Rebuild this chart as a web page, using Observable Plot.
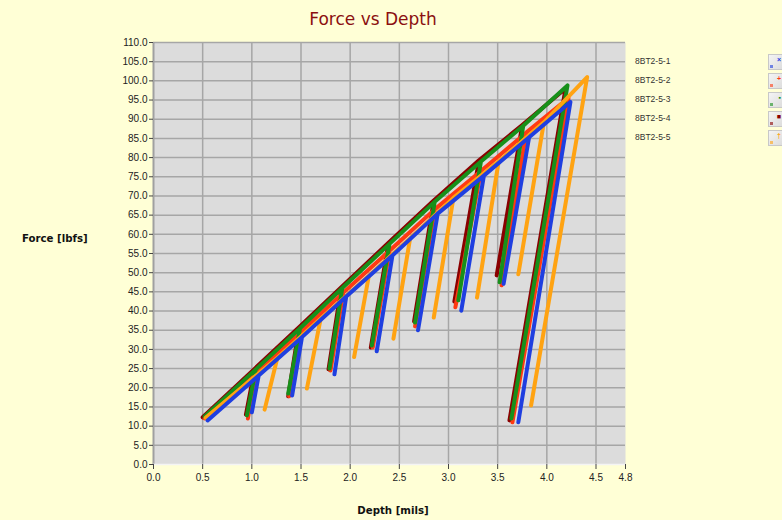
<!DOCTYPE html>
<html><head><meta charset="utf-8">
<script src="https://cdn.jsdelivr.net/npm/d3@7"></script>
<script src="https://cdn.jsdelivr.net/npm/@observablehq/plot@0.6"></script>
<style>
html,body{margin:0;padding:0;background:#ffffd6;}
#wrap{position:relative;width:782px;height:520px;background:#ffffd6;overflow:hidden;font-family:"Liberation Sans",Arial,sans-serif;}
#title{position:absolute;left:0;width:746px;top:9px;text-align:center;color:#8b1010;font-size:17px;font-family:"DejaVu Sans",Verdana,sans-serif;}
#chart{position:absolute;left:0;top:36px;}
#ylab{position:absolute;left:22px;top:233px;font-weight:bold;font-size:10.2px;color:#111;font-family:"DejaVu Sans",Verdana,sans-serif;}
#xlab{position:absolute;left:0;width:786px;top:505px;text-align:center;font-weight:bold;font-size:10.2px;color:#111;font-family:"DejaVu Sans",Verdana,sans-serif;}
#legend{position:absolute;left:635px;top:54px;}
.lrow{position:relative;height:19px;width:160px;}
.ltxt{position:absolute;left:0;top:2px;font-size:8.5px;color:#333;}
.lsw{position:absolute;left:133px;top:0px;width:14px;height:14px;border:1px solid #c8c8c8;background:linear-gradient(135deg,#f4f4f4,#dcdcdc);}
.m1{position:absolute;right:2px;top:1px;font-size:7px;line-height:7px;font-weight:bold;}
.m2{position:absolute;left:1px;bottom:1px;width:3px;height:3px;opacity:0.6;}
</style>
</head><body>
<div id="wrap">
  <div id="title">Force vs Depth</div>
  <div id="chart"></div>
  <div id="ylab">Force [lbfs]</div>
  <div id="xlab">Depth [mils]</div>
  <div id="legend"></div>
</div>
<script>
// Series
const seriesNames = ["8BT2-5-1", "8BT2-5-2", "8BT2-5-3", "8BT2-5-4", "8BT2-5-5"];
const seriesColors = ["#1f3fe0", "#ff3a12", "#17901a", "#8a0000", "#ffa312"];
const legendMarkers = ["×", "+", "▪", "■", "†"];

// Start of loading for each series
const startX = [0.55, 0.52, 0.52, 0.50, 0.53];
const startY = [11.5, 12.0, 12.5, 12.3, 12.2];

// Peak (top of each unload) per series
const peakX = [
  [1.07, 1.51, 1.96, 2.43, 2.89, 3.36, 3.82, 4.24],
  [1.04, 1.49, 1.93, 2.40, 2.86, 3.33, 3.79, 4.22],
  [1.04, 1.49, 1.92, 2.40, 2.86, 3.33, 3.76, 4.21],
  [1.03, 1.48, 1.91, 2.39, 2.85, 3.31, 3.75, 4.19],
  [1.26, 1.70, 2.19, 2.61, 3.05, 3.51, 3.97, 4.41]
];
const peakY = [
  [23.2, 33.2, 43.8, 54.5, 65.4, 75.3, 85.3, 94.5],
  [24.0, 34.3, 44.8, 55.7, 66.5, 76.5, 86.5, 95.5],
  [24.8, 35.5, 46.0, 57.5, 68.5, 79.0, 88.3, 98.8],
  [25.0, 35.8, 46.2, 57.8, 68.8, 79.3, 88.5, 98.0],
  [27.8, 38.0, 49.2, 59.0, 69.5, 79.0, 89.2, 101.0]
];
// Valley (bottom of each unload) per series
const valleyX = [
  [1.00, 1.41, 1.84, 2.27, 2.69, 3.13, 3.56, 3.71],
  [0.96, 1.38, 1.80, 2.23, 2.66, 3.07, 3.54, 3.65],
  [0.95, 1.37, 1.79, 2.22, 2.66, 3.10, 3.52, 3.64],
  [0.94, 1.37, 1.78, 2.21, 2.65, 3.06, 3.49, 3.62],
  [1.13, 1.56, 2.04, 2.44, 2.85, 3.29, 3.71, 3.84]
];
const valleyY = [
  [13.6, 18.0, 23.5, 29.5, 35.0, 40.1, 47.1, 11.0],
  [12.0, 17.8, 24.5, 30.5, 36.0, 41.0, 46.7, 11.0],
  [12.8, 18.5, 25.0, 31.0, 37.0, 42.8, 47.5, 12.0],
  [13.0, 17.8, 24.8, 30.5, 37.3, 42.5, 49.3, 11.5],
  [14.3, 19.8, 28.0, 32.8, 38.3, 43.5, 49.6, 15.4]
];

// Axis ticks
const xTicks = [0, 0.5, 1.0, 1.5, 2.0, 2.5, 3.0, 3.5, 4.0, 4.5, 4.8];
const yTicks = d3.range(0, 110.001, 5);
const drawOrder = [3, 1, 2, 4, 0];

// Build path rows: start -> peak -> valley -> back to peak -> next peak ... -> final valley
function rowsFor(s) {
  const rows = [{x: startX[s], y: startY[s], series: seriesNames[s]}];
  const n = peakX[s].length;
  for (let i = 0; i < n; i++) {
    rows.push({x: peakX[s][i], y: peakY[s][i], series: seriesNames[s]});
    rows.push({x: valleyX[s][i], y: valleyY[s][i], series: seriesNames[s]});
    if (i < n - 1) rows.push({x: peakX[s][i], y: peakY[s][i], series: seriesNames[s]});
  }
  return rows;
}

const lineMarks = drawOrder.map(s => Plot.line(rowsFor(s), {
  x: "x", y: "y", stroke: seriesColors[s], strokeWidth: 4,
  strokeLinejoin: "round", strokeLinecap: "round"
}));

const chart = Plot.plot({
  width: 782,
  height: 484,
  marginTop: 6,
  marginBottom: 56,
  marginLeft: 153,
  marginRight: 157,
  style: {background: "transparent", fontFamily: "'Liberation Sans', Arial, sans-serif", fontSize: "10px", color: "#222"},
  x: {domain: [0, 4.8], ticks: xTicks, tickFormat: d3.format(".1f"), label: null},
  y: {domain: [0, 110], ticks: yTicks, tickFormat: d3.format(".1f"), label: null},
  marks: [
    Plot.frame({fill: "#dcdcdc", stroke: null}),
    Plot.gridX(xTicks.slice(1, -1), {stroke: "#a6a6a6", strokeOpacity: 1, strokeWidth: 1.5}),
    Plot.gridY(yTicks.slice(1), {stroke: "#a6a6a6", strokeOpacity: 1, strokeWidth: 1.5}),
    Plot.ruleX([0], {stroke: "#a0a0a0", strokeWidth: 2}),
    Plot.ruleY([0], {stroke: "#f4f4f4", strokeWidth: 1.5}),
    Plot.axisY({ticks: yTicks, tickFormat: d3.format(".1f"), tickSize: 4, tickPadding: 2, stroke: "#444", fill: "#222", label: null}),
    Plot.axisX({ticks: xTicks, tickFormat: d3.format(".1f"), tickSize: 5, tickPadding: 4, stroke: "#444", fill: "#222", label: null}),
    ...lineMarks
  ]
});
document.getElementById("chart").appendChild(chart);

// Legend
const legend = document.getElementById("legend");
seriesNames.forEach((name, i) => {
  const row = document.createElement("div");
  row.className = "lrow";
  row.innerHTML = `<span class="ltxt">${name}</span><span class="lsw"><span class="m1" style="color:${seriesColors[i]}">${legendMarkers[i]}</span><span class="m2" style="background:${seriesColors[i]}"></span></span>`;
  legend.appendChild(row);
});
</script>
</body></html>
